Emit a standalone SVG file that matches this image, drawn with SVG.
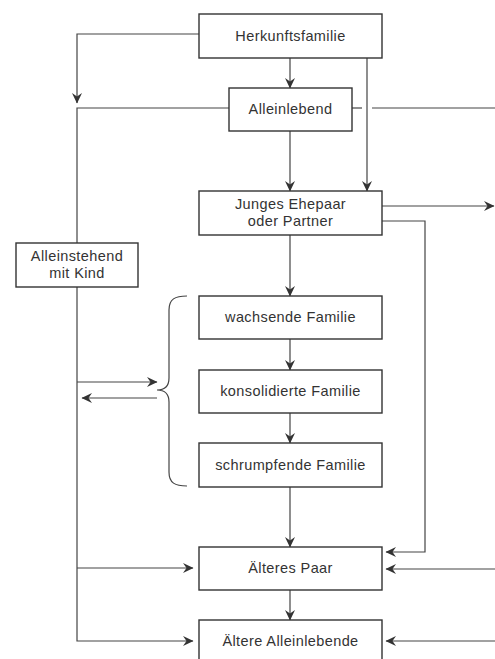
<svg xmlns="http://www.w3.org/2000/svg" width="495" height="659" viewBox="0 0 495 659">
<style>
.box{fill:#fff;stroke:#333;stroke-width:1.4}
.lbl{font-family:"Liberation Sans",Arial,sans-serif;font-size:14.5px;letter-spacing:0.4px;fill:#333;text-anchor:middle}
.ln{fill:none;stroke:#444;stroke-width:1.2}
.arr{marker-end:url(#ah)}
</style>
<defs>
<marker id="ah" markerWidth="12" markerHeight="12" refX="10" refY="6" orient="auto" markerUnits="userSpaceOnUse">
<path d="M0,1 L10.5,6 L0,11 L3.5,6 Z" fill="#333"/>
</marker>
</defs>
<rect width="495" height="659" fill="#fff"/>
<g id="connectors">
<path class="ln arr" d="M199,34 H77 V103"/>
<path class="ln arr" d="M290,58 V88"/>
<path class="ln" d="M229,108 H77 V243"/>
<path class="ln" d="M352,108 H362"/>
<path class="ln" d="M372,108 H495"/>
<path class="ln arr" d="M367,58 V191"/>
<path class="ln arr" d="M290,131 V191"/>
<path class="ln arr" d="M382,206 H494"/>
<path class="ln arr" d="M382,221 H425 V552 H386"/>
<path class="ln arr" d="M290,235 V296"/>
<path class="ln arr" d="M290,339 V370"/>
<path class="ln arr" d="M290,413 V443"/>
<path class="ln arr" d="M290,487 V547"/>
<path class="ln arr" d="M290,590 V620"/>
<path class="ln arr" d="M77,287 V641 H193"/>
<path class="ln arr" d="M77,568 H193"/>
<path class="ln arr" d="M77,382 H157"/>
<path class="ln arr" d="M157,398 H82"/>
<path class="ln arr" d="M495,569 H386"/>
<path class="ln arr" d="M495,641 H386"/>
<path class="ln" d="M187,296 C175,296 169,299 169,310 V378 C169,386 165,390 157,390 C165,390 169,394 169,402 V472 C169,483 175,486 187,486"/>
</g>
<g id="herkunftsfamilie"><rect class="box" x="199" y="14" width="183" height="44"/><text class="lbl" x="290.5" y="41">Herkunftsfamilie</text></g>
<g id="alleinlebend"><rect class="box" x="229" y="88" width="123" height="43"/><text class="lbl" x="290.5" y="114">Alleinlebend</text></g>
<g id="junges-ehepaar"><rect class="box" x="199" y="191" width="183" height="44"/><text class="lbl" x="290.5" y="209">Junges Ehepaar</text><text class="lbl" x="290.5" y="226">oder Partner</text></g>
<g id="alleinstehend"><rect class="box" x="16" y="243" width="122" height="44"/><text class="lbl" x="77" y="261">Alleinstehend</text><text class="lbl" x="77" y="278">mit Kind</text></g>
<g id="wachsende"><rect class="box" x="199" y="296" width="183" height="43"/><text class="lbl" x="290.5" y="322">wachsende Familie</text></g>
<g id="konsolidierte"><rect class="box" x="199" y="370" width="183" height="43"/><text class="lbl" x="290.5" y="396">konsolidierte Familie</text></g>
<g id="schrumpfende"><rect class="box" x="199" y="443" width="183" height="44"/><text class="lbl" x="290.5" y="470">schrumpfende Familie</text></g>
<g id="aelteres-paar"><rect class="box" x="199" y="547" width="183" height="43"/><text class="lbl" x="290.5" y="573">Älteres Paar</text></g>
<g id="aeltere-alleinlebende"><rect class="box" x="199" y="620" width="183" height="46"/><text class="lbl" x="290.5" y="646">Ältere Alleinlebende</text></g>
</svg>
